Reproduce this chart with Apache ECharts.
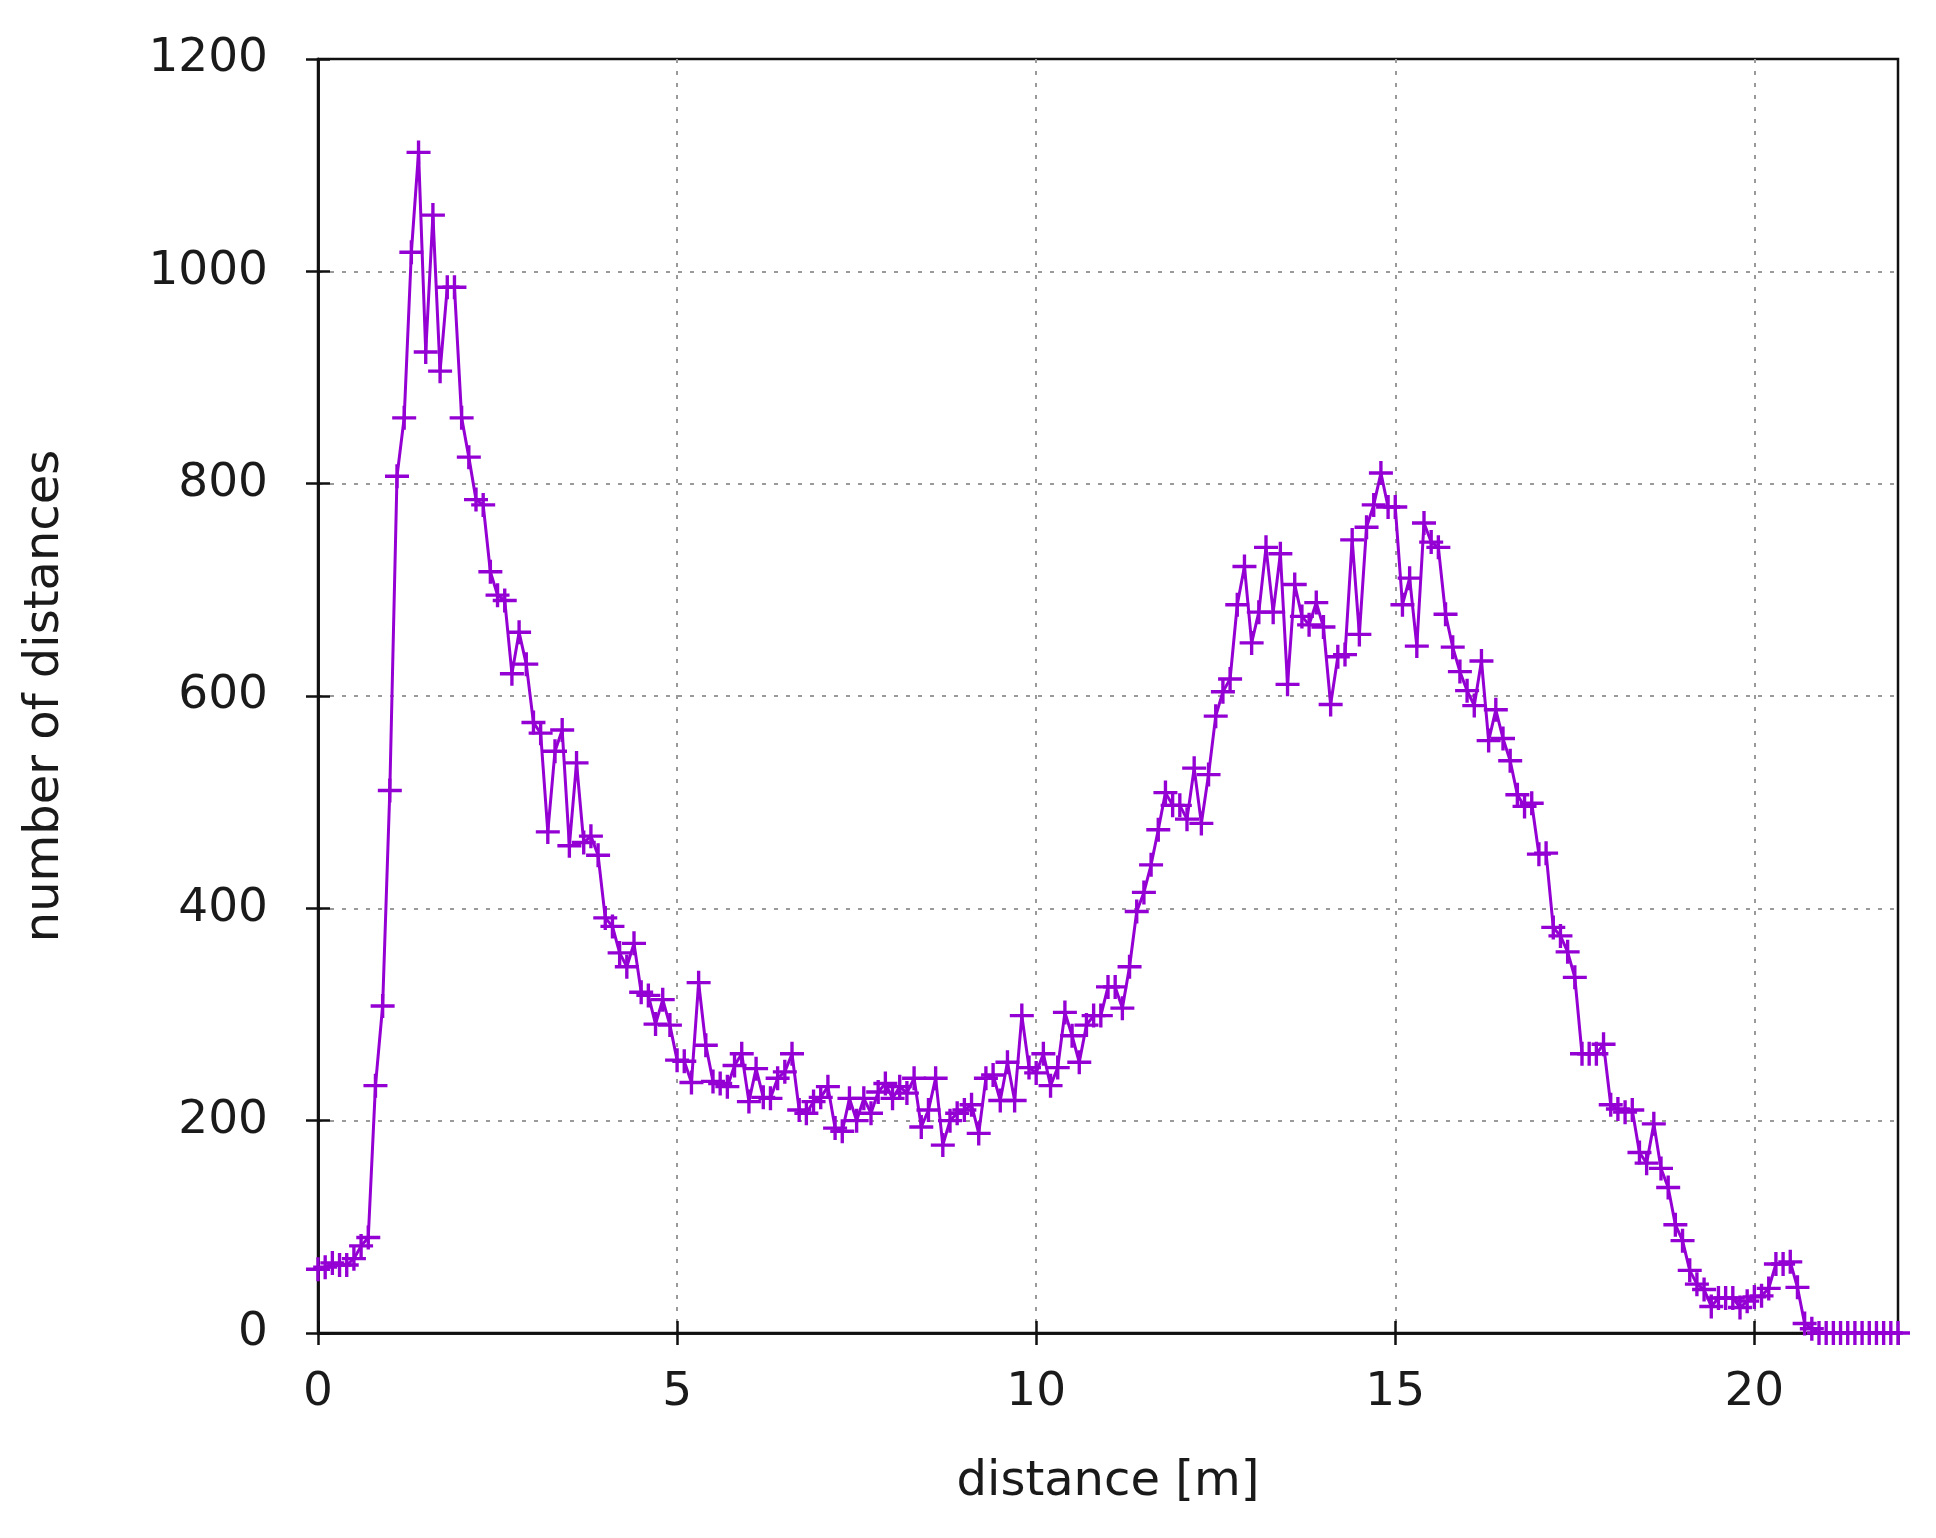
<!DOCTYPE html>
<html>
<head>
<meta charset="utf-8">
<title>number of distances</title>
<script src="https://cdn.jsdelivr.net/npm/echarts@6/dist/echarts.min.js"></script>
<style>
  html, body { margin: 0; padding: 0; background: #fff; }
  #chart { width: 1936px; height: 1538px; }
</style>
</head>
<body>
<div id="chart"></div>
<script>
  // histogram of distances, one value per 0.1 m bin starting at 0
  const binStep = 0.1
  const counts = [
    60, 62, 66, 64, 64, 70, 82, 90, 233, 308,
    511, 807, 862, 1018, 1112, 924, 1053, 906, 985, 985,
    862, 825, 785, 780, 717, 695, 690, 621, 660, 630,
    575, 565, 472, 548, 568, 459, 537, 462, 468, 450,
    391, 383, 358, 345, 367, 321, 318, 291, 314, 290,
    257, 256, 236, 330, 271, 237, 235, 232, 252, 263,
    218, 249, 222, 221, 240, 246, 263, 210, 207, 218,
    222, 232, 193, 190, 221, 200, 221, 207, 227, 235,
    221, 232, 226, 240, 194, 210, 240, 177, 200, 207,
    210, 215, 188, 240, 243, 219, 255, 219, 299, 250,
    245, 263, 233, 250, 302, 280, 255, 290, 299, 299,
    326, 326, 306, 345, 397, 415, 441, 474, 509, 497,
    497, 484, 532, 480, 526, 581, 604, 616, 686, 722,
    650, 679, 740, 679, 734, 611, 705, 675, 667, 688,
    665, 592, 637, 639, 747, 658, 759, 780, 810, 778,
    778, 686, 711, 647, 763, 745, 740, 677, 646, 623,
    605, 591, 633, 558, 587, 560, 539, 507, 496, 499,
    451, 452, 382, 374, 359, 335, 263, 263, 263, 272,
    215, 211, 208, 210, 170, 160, 197, 155, 137, 102,
    87, 59, 46, 41, 25, 33, 33, 33, 24, 30,
    34, 35, 42, 65, 65, 67, 43, 9, 4, 0,
    0, 0, 0, 0, 0, 0, 0, 0, 0, 0,
    0
  ]
  const xTicks = [0, 22, 5]      // min, max, interval
  const yTicks = [0, 1200, 200]

  const purple = '#9400d3'
  const font = 'DejaVu Sans'
  // gnuplot style "+" point
  const plus = 'path://M8.6,0H11.4V8.6H20V11.4H11.4V20H8.6V11.4H0V8.6H8.6Z'

  const points = counts.map((c, i) => [+(i * binStep).toFixed(1), c])

  const labelStyle = { fontFamily: font, fontSize: 47, color: '#1a1a1a' }
  const gridLine = {
    show: true, showMinLine: false, showMaxLine: false,
    lineStyle: { color: '#9a9a9a', width: 2, type: [4, 8] }
  }
  const tick = { show: true, inside: true, length: 12, lineStyle: { color: '#111', width: 2.5 } }

  const chart = echarts.init(document.getElementById('chart'))
  chart.setOption({
    animation: false,
    backgroundColor: '#fff',
    grid: {
      left: 318, right: 38, top: 59, bottom: 205,
      show: true, borderColor: '#111', borderWidth: 2.5
    },
    xAxis: [
      {
        type: 'value', min: xTicks[0], max: xTicks[1], interval: xTicks[2],
        name: 'distance [m]', nameLocation: 'middle', nameGap: 126,
        nameTextStyle: { fontFamily: font, fontSize: 48, color: '#1a1a1a' },
        axisLine: { show: true, lineStyle: { color: '#111', width: 2.5 } },
        axisTick: tick,
        axisLabel: Object.assign({ margin: 36, showMaxLabel: false }, labelStyle),
        splitLine: gridLine
      },
      {
        type: 'value', position: 'top', min: xTicks[0], max: xTicks[1], interval: xTicks[2],
        axisLine: { show: true, lineStyle: { color: '#111', width: 2.5 } },
        axisTick: tick,
        axisLabel: { show: false },
        splitLine: { show: false }
      }
    ],
    yAxis: [
      {
        type: 'value', min: yTicks[0], max: yTicks[1], interval: yTicks[2],
        name: 'number of distances', nameLocation: 'middle', nameGap: 248,
        nameTextStyle: { fontFamily: font, fontSize: 48, color: '#1a1a1a' },
        axisLine: { show: true, lineStyle: { color: '#111', width: 2.5 } },
        axisTick: tick,
        axisLabel: Object.assign({ margin: 50, formatter: v => String(v) }, labelStyle),
        splitLine: gridLine
      },
      {
        type: 'value', position: 'right', min: yTicks[0], max: yTicks[1], interval: yTicks[2],
        axisLine: { show: true, lineStyle: { color: '#111', width: 2.5 } },
        axisTick: tick,
        axisLabel: { show: false },
        splitLine: { show: false }
      }
    ],
    series: [
      {
        type: 'line',
        data: points,
        symbol: plus,
        symbolSize: 24,
        showAllSymbol: true,
        clip: false,
        z: 5,
        lineStyle: { color: purple, width: 3 },
        itemStyle: { color: purple }
      }
    ]
  })
</script>
</body>
</html>
